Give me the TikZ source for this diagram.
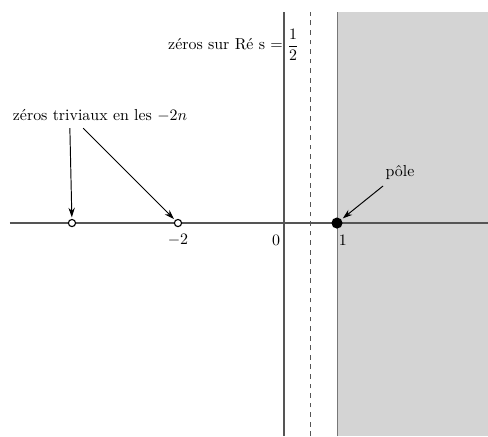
\documentclass[tikz,border=0pt]{standalone}
\usepackage{amsmath}
\usetikzlibrary{arrows.meta}
\definecolor{axisgray}{HTML}{555555}
\definecolor{halfplane}{HTML}{D4D4D4}
\begin{document}
\begin{tikzpicture}[x=1.17cm, y=1.17cm,
  axis/.style={draw=axisgray, line width=0.7pt},
  zero/.style={circle, draw=black, fill=white, line width=0.7pt, inner sep=0pt, minimum size=4.5pt},
  pole/.style={circle, fill=black, inner sep=0pt, minimum size=7pt},
  arr/.style={-{Stealth[length=6pt, width=4pt]}, line width=0.6pt}]
\useasboundingbox (-5.358,-4.019) rectangle (3.849,4.208);
% half plane Re s > 1
\fill[halfplane] (1,-4.019) rectangle (3.849,3.98);
\draw[axisgray!80, line width=0.6pt] (1,-4.019) -- (1,3.98);
% axes and critical line
\draw[axis] (-5.17,0) -- (3.849,0);
\draw[axis] (0,-4.019) -- (0,3.98);
\draw[axisgray, dashed, line width=0.6pt] (0.5,-4.019) -- (0.5,3.98);
% zeros and pole
\node[zero] (m4) at (-4,0) {};
\node[zero] (m2) at (-2,0) {};
\node[pole] (p1) at (1,0) {};
\node (lm2) at (-2,-0.32) {$-2$};
\node (l0) at (-0.15,-0.32) {$0$};
\node (l1) at (1.11,-0.32) {$1$};
% labels
\node[anchor=east] (crit) at (0.39,3.36) {zéros sur Ré s $=\dfrac{1}{2}$};
\node (triv) at (-3.47,2.02) {zéros triviaux en les $-2n$};
\node (pl) at (2.19,0.96) {pôle};
\coordinate (t1) at (-4.04,1.79);
\coordinate (t2) at (-3.79,1.79);
\coordinate (pa) at (1.87,0.70);
\draw[arr, shorten >=1pt] (t1) -- (m4);
\draw[arr, shorten >=1pt] (t2) -- (m2);
\draw[arr, shorten >=1pt] (pa) -- (p1);
\end{tikzpicture}
\end{document}
